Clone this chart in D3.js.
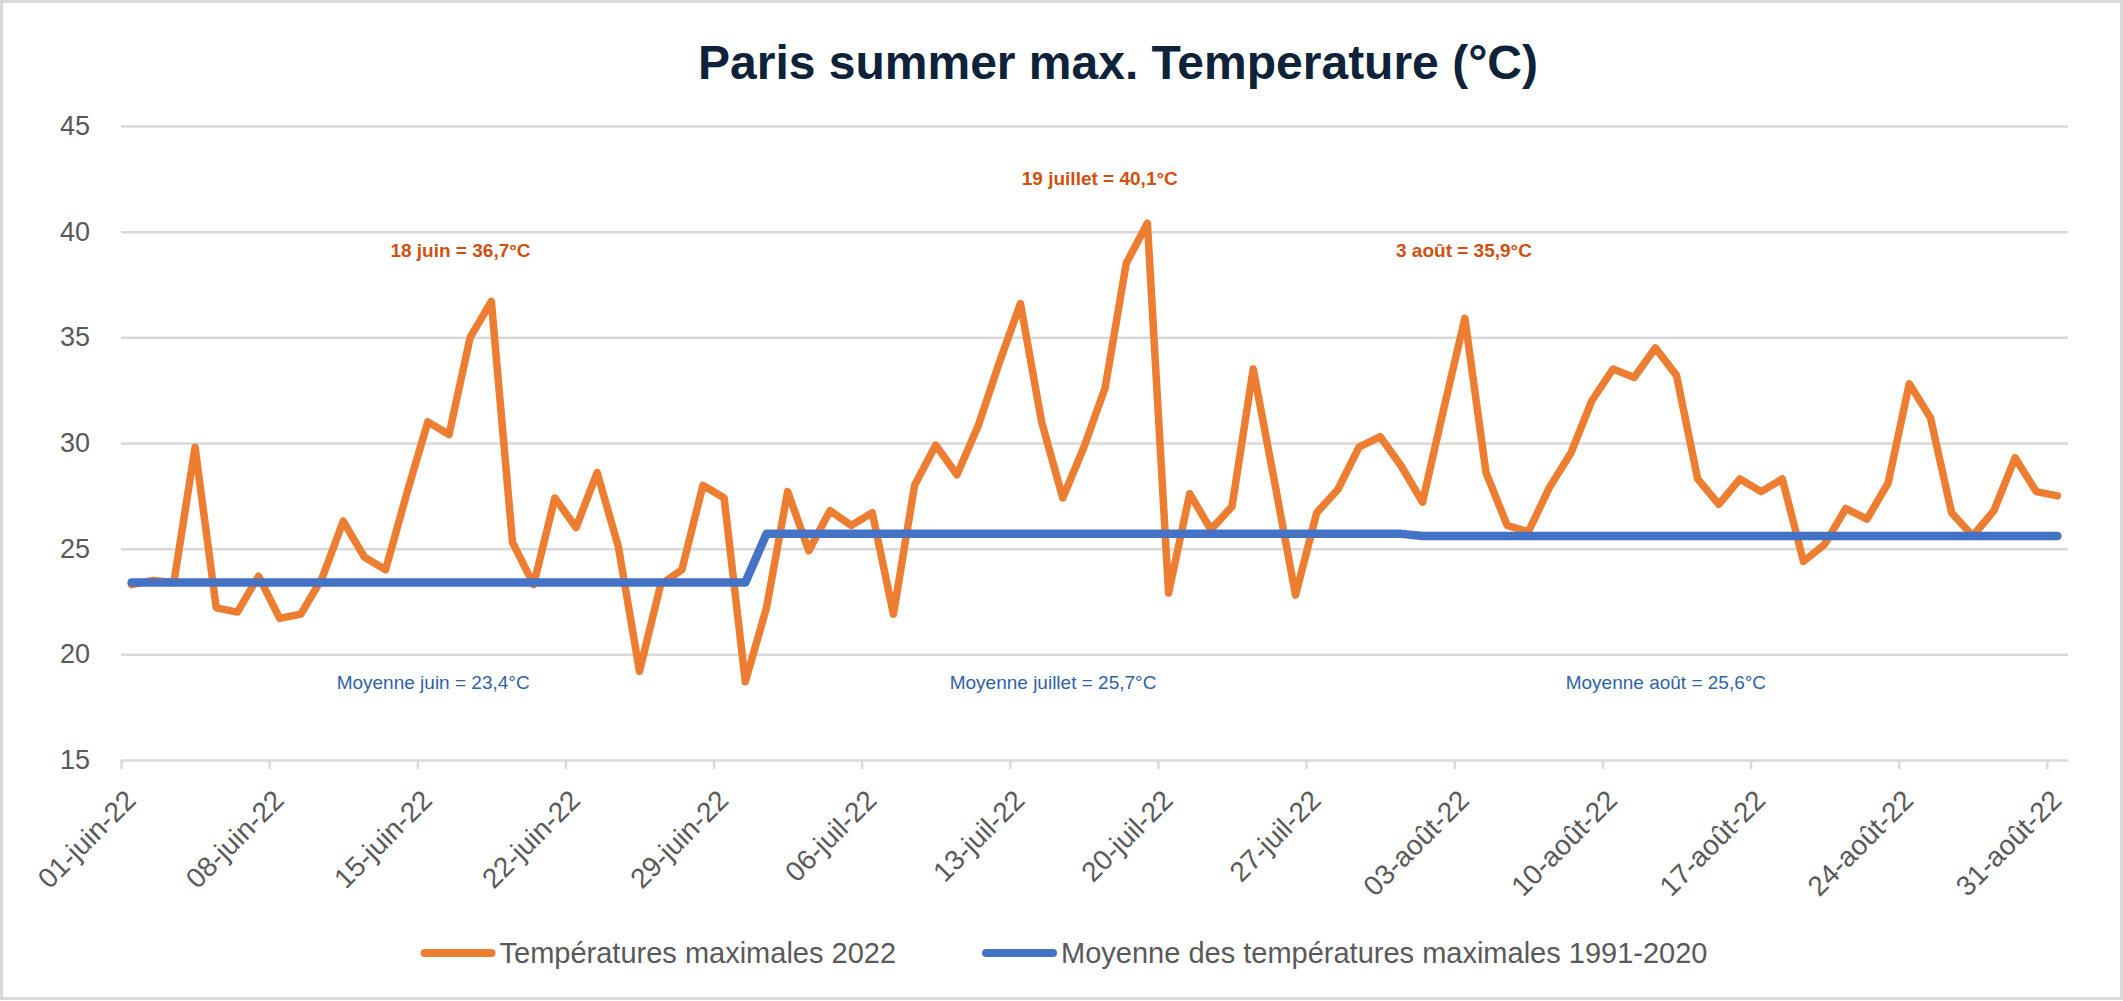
<!DOCTYPE html>
<html>
<head>
<meta charset="utf-8">
<script src="https://cdn.jsdelivr.net/npm/d3@7"></script>
<style>
    body { margin: 0; background: #fff; }
    text { font-family: "Liberation Sans", Arial, sans-serif; }
</style>
</head>
<body>
<svg id="chart" width="2123" height="1001"></svg>
<script>
// Daily max temperatures in Paris, summer 2022
const juneMax = [
    23.3, 23.5, 23.4, 29.8, 22.2, 22.0, 23.7, 21.7, 21.9, 23.6,
    26.3, 24.6, 24.0, 27.6, 31.0, 30.4, 35.0, 36.7, 25.3, 23.3,
    27.4, 26.0, 28.6, 25.1, 19.2, 23.3, 24.0, 28.0, 27.4, 18.7
];
const julyMax = [
    22.2, 27.7, 24.9, 26.8, 26.1, 26.7, 21.9, 28.0, 29.9, 28.5,
    30.8, 33.8, 36.6, 31.0, 27.4, 29.8, 32.6, 38.5, 40.4, 22.9,
    27.6, 25.9, 27.0, 33.5, 28.2, 22.8, 26.7, 27.8, 29.8, 30.3,
    28.9
];
const augustMax = [
    27.2, 31.6, 35.9, 28.6, 26.1, 25.8, 27.9, 29.5, 32.0, 33.5,
    33.1, 34.5, 33.2, 28.3, 27.1, 28.3, 27.7, 28.3, 24.4, 25.2,
    26.9, 26.4, 28.1, 32.8, 31.2, 26.7, 25.6, 26.8, 29.3, 27.7,
    27.5
];

// 1991-2020 normals: one mean per month, plotted on each day of that month
const monthlyNormals = [23.4, 25.7, 25.6];
const monthLengths = [30, 31, 31];

const tickLabels = [
    "01-juin-22", "08-juin-22", "15-juin-22", "22-juin-22", "29-juin-22",
    "06-juil-22", "13-juil-22", "20-juil-22", "27-juil-22",
    "03-août-22", "10-août-22", "17-août-22", "24-août-22", "31-août-22"
];

const peakNotes = ["18 juin = 36,7°C", "19 juillet = 40,1°C", "3 août = 35,9°C"];
const meanNotes = ["Moyenne juin = 23,4°C", "Moyenne juillet = 25,7°C", "Moyenne août = 25,6°C"];

const seriesNames = ["Températures maximales 2022", "Moyenne des températures maximales 1991-2020"];

// ---- build the series
const days = d3.timeDay.range(new Date(2022, 5, 1), new Date(2022, 8, 1));
const maxTemps = juneMax.concat(julyMax, augustMax);
const normals = monthLengths.flatMap((n, m) => d3.range(n).map(() => monthlyNormals[m]));

const maxData = days.map((d, i) => ({ date: d, value: maxTemps[i] }));
const normalData = days.map((d, i) => ({ date: d, value: normals[i] }));

// ---- layout
const plot = { left: 121, right: 2068, top: 126, bottom: 760 };
const orange = "#ED7D31";
const blue = "#4472C4";
const grey = "#595959";
const gridColor = "#d9d9d9";

const svg = d3.select("#chart");

// chart frame
svg.append("rect")
    .attr("x", 1.5).attr("y", 1.5)
    .attr("width", 2120).attr("height", 997)
    .attr("fill", "#fff")
    .attr("stroke", "#d9d9d9")
    .attr("stroke-width", 3);

const x = d3.scaleTime()
    .domain([days[0], d3.timeDay.offset(days[days.length - 1], 1)])
    .range([plot.left, plot.right]);
const y = d3.scaleLinear().domain([15, 45]).range([plot.bottom, plot.top]);

// day index (fractional) -> date, used to place the free text notes
const dayAt = (k) => d3.timeHour.offset(days[0], k * 24);
const mid = (d) => d3.timeHour.offset(d, 12);

// title
svg.append("text")
    .attr("x", 1118).attr("y", 79)
    .attr("text-anchor", "middle")
    .style("font-size", "48px")
    .style("font-weight", "bold")
    .style("fill", "#0E2239")
    .text("Paris summer max. Temperature (°C)");

// y grid + labels
const yAxis = svg.append("g")
    .attr("transform", `translate(${plot.left},0)`)
    .call(d3.axisLeft(y)
        .tickValues(d3.range(15, 46, 5))
        .tickSize(-(plot.right - plot.left))
        .tickPadding(31));
yAxis.select(".domain").remove();
yAxis.selectAll("line").attr("stroke", gridColor).attr("stroke-width", 2.5);
yAxis.selectAll("text")
    .style("font-size", "27px")
    .style("fill", grey);

// x ticks + rotated labels
const tickDays = d3.timeDay.range(days[0], d3.timeDay.offset(days[days.length - 1], 1), 7);
const xAxis = svg.append("g")
    .attr("transform", `translate(0,${plot.bottom})`)
    .call(d3.axisBottom(x)
        .tickValues(tickDays)
        .tickSize(9)
        .tickFormat((d, i) => tickLabels[i]));
xAxis.select(".domain").remove();
xAxis.selectAll("line").attr("stroke", gridColor).attr("stroke-width", 2.5);
xAxis.selectAll("text")
    .attr("x", 0).attr("y", 0).attr("dy", "0.35em")
    .attr("text-anchor", "end")
    .attr("transform", "translate(9,35) rotate(-45)")
    .style("font-size", "28px")
    .style("fill", grey);

// lines
const line = d3.line()
    .x((d) => x(mid(d.date)))
    .y((d) => y(d.value));

svg.append("path")
    .datum(maxData)
    .attr("d", line)
    .attr("fill", "none")
    .attr("stroke", orange)
    .attr("stroke-width", 7.5)
    .attr("stroke-linejoin", "round")
    .attr("stroke-linecap", "round");

svg.append("path")
    .datum(normalData)
    .attr("d", line)
    .attr("fill", "none")
    .attr("stroke", blue)
    .attr("stroke-width", 8.5)
    .attr("stroke-linejoin", "round")
    .attr("stroke-linecap", "round");

// notes
const peakPos = [[16.07, 38.8], [46.27, 42.2], [63.47, 38.8]];
svg.append("g").selectAll("text")
    .data(peakNotes)
    .join("text")
    .attr("x", (d, i) => x(dayAt(peakPos[i][0])))
    .attr("y", (d, i) => y(peakPos[i][1]))
    .attr("text-anchor", "middle")
    .style("font-size", "19px")
    .style("font-weight", "bold")
    .style("fill", "#D0500F")
    .text((d) => d);

const meanPos = [14.79, 44.05, 73.0];
svg.append("g").selectAll("text")
    .data(meanNotes)
    .join("text")
    .attr("x", (d, i) => x(dayAt(meanPos[i])))
    .attr("y", y(18.36))
    .attr("text-anchor", "middle")
    .style("font-size", "19px")
    .style("fill", "#2F62A5")
    .text((d) => d);

// legend
const legend = svg.append("g").attr("transform", "translate(0,953)");
const swatchW = 67, gapText = 8, gapItem = 90;
const items = legend.selectAll("g")
    .data(seriesNames)
    .join("g");
items.append("line")
    .attr("x1", 0).attr("x2", swatchW)
    .attr("stroke", (d, i) => (i === 0 ? orange : blue))
    .attr("stroke-width", 8)
    .attr("stroke-linecap", "round");
items.append("text")
    .attr("x", swatchW + gapText)
    .attr("dy", "0.35em")
    .style("font-size", "29px")
    .style("fill", grey)
    .text((d) => d);

let widths = [];
items.each(function () {
    widths.push(swatchW + gapText + d3.select(this).select("text").node().getComputedTextLength());
});
const total = d3.sum(widths) + gapItem;
let cx = 1066 - total / 2;
items.attr("transform", (d, i) => {
    const t = `translate(${cx},0)`;
    cx += widths[i] + gapItem;
    return t;
});
</script>
</body>
</html>
